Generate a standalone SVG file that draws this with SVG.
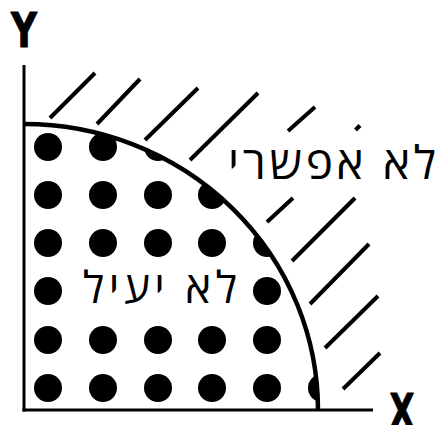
<svg xmlns="http://www.w3.org/2000/svg" width="438" height="425" viewBox="0 0 438 425">
<style>
.hatch line{stroke:#000;stroke-width:4;stroke-linecap:butt}
.axis{stroke:#000;stroke-width:3;fill:none}
.arc{stroke:#000;stroke-width:4.5;fill:none}
.dots circle{fill:#000}
.lbl{font-family:"Open Sans","DejaVu Sans",sans-serif;fill:#000;text-anchor:middle}
.ax{font-family:"DejaVu Sans",sans-serif;font-weight:bold;fill:#000;text-anchor:middle;stroke:#000;stroke-width:1;stroke-linejoin:round}
</style>
<defs>
<clipPath id="inside"><ellipse cx="24" cy="410" rx="294" ry="286"/></clipPath>
</defs>
<rect width="438" height="425" fill="#fff"/>
<g id="axes">
<line class="axis" x1="24" y1="65" x2="24" y2="411.5"/>
<line class="axis" x1="22.5" y1="410" x2="373" y2="410"/>
<text class="ax" x="24" y="47" font-size="48" textLength="26" lengthAdjust="spacingAndGlyphs">Y</text>
<text class="ax" x="402" y="428" font-size="48" textLength="25" lengthAdjust="spacingAndGlyphs">X</text>
</g>
<g id="inefficient-region">
<g class="dots" clip-path="url(#inside)">
<circle cx="48" cy="147" r="14"/><circle cx="103" cy="147" r="14"/><circle cx="158" cy="147" r="14"/>
<circle cx="48" cy="195" r="14"/><circle cx="103" cy="195" r="14"/><circle cx="158" cy="195" r="14"/><circle cx="212" cy="195" r="14"/>
<circle cx="48" cy="243" r="14"/><circle cx="103" cy="243" r="14"/><circle cx="158" cy="243" r="14"/><circle cx="212" cy="243" r="14"/><circle cx="267" cy="243" r="14"/>
<circle cx="48" cy="291" r="14"/><circle cx="267" cy="291" r="14"/>
<circle cx="48" cy="340" r="14"/><circle cx="103" cy="340" r="14"/><circle cx="158" cy="340" r="14"/><circle cx="212" cy="340" r="14"/><circle cx="267" cy="340" r="14"/>
<circle cx="48" cy="388" r="14"/><circle cx="103" cy="388" r="14"/><circle cx="158" cy="388" r="14"/><circle cx="212" cy="388" r="14"/><circle cx="267" cy="388" r="14"/><circle cx="322" cy="388" r="14"/>
</g>
<text class="lbl" x="160" y="303" font-size="44" textLength="154">לא יעיל</text>
</g>
<g id="impossible-region">
<g class="hatch">
<line x1="50" y1="118" x2="95" y2="73"/>
<line x1="97" y1="124" x2="140" y2="79"/>
<line x1="145" y1="140" x2="198" y2="88"/>
<line x1="190" y1="160" x2="258" y2="93"/>
<line x1="288" y1="131" x2="315" y2="107"/>
<line x1="355.5" y1="130" x2="360" y2="125.5"/>
<line x1="267" y1="222" x2="293" y2="198"/>
<line x1="292" y1="261" x2="355" y2="198"/>
<line x1="310" y1="304" x2="369" y2="244"/>
<line x1="325" y1="348" x2="378" y2="296"/>
<line x1="343" y1="389" x2="380" y2="353"/>
</g>
<text class="lbl" x="332" y="179" font-size="46" textLength="208">לא אפשרי</text>
</g>
<g id="frontier">
<path class="arc" d="M24,124 A294,286 0 0 1 318,410"/>
</g>
</svg>
